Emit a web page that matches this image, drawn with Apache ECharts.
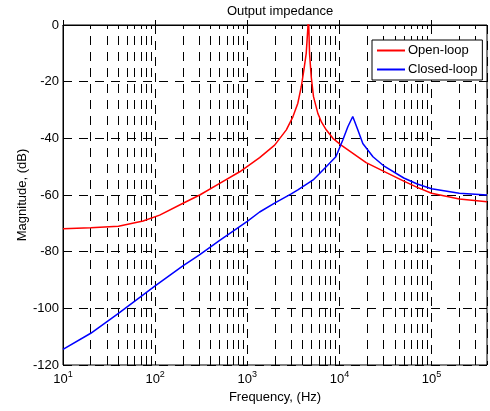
<!DOCTYPE html>
<html>
<head>
<meta charset="utf-8">
<script src="https://cdn.jsdelivr.net/npm/echarts@6/dist/echarts.min.js"></script>
<style>
  html, body { margin: 0; padding: 0; background: #fff; }
  #chart { width: 490px; height: 411px; }
</style>
</head>
<body>
<div id="chart"></div>
<script>
// frequencies (Hz) and magnitudes (dB)
const openFreq = [10, 20, 40, 74, 112, 201, 305, 502, 828, 1362, 1982, 2655, 3127, 3540, 3855, 4114, 4365, 4546, 4610, 4742, 4943, 5237, 5834, 6400, 7190, 8500, 10450, 19500, 30000, 50000, 70000, 100000, 200000, 400000]
const openMag = [-71.9, -71.6, -71, -69.2, -67.1, -62.9, -60, -55.9, -51.8, -46.8, -42.4, -37, -32.4, -27.6, -21.8, -15.9, -10, -1, 4, -10, -18.2, -25.3, -31.2, -34.3, -37, -40, -42.4, -48.6, -51.6, -55.1, -57.3, -59.4, -61.4, -62.4]

const closedFreq = [10, 20, 40, 100, 200, 300, 502, 1000, 1362, 2000, 3000, 3540, 5190, 7190, 9150, 10890, 12350, 13960, 15830, 17950, 23140, 30000, 50000, 70000, 100000, 200000, 400000]
const closedMag = [-114.5, -108.8, -101.8, -92.1, -85, -81.2, -76, -69.3, -66, -62.8, -59.6, -58.2, -54.7, -50, -46.5, -40.6, -35.9, -32.3, -37, -41.8, -46.5, -49.6, -54, -56.1, -57.8, -59.4, -60]

const yTicks = [-120, -100, -80, -60, -40, -20, 0]
const decades = [10, 100, 1000, 10000, 100000]
const minorMult = [2, 3, 4, 5, 6, 7, 8, 9]

const xMin = 10
const xMax = 400000

// minor grid positions 20,30,...,90,200,...
let minorLines = []
decades.forEach(d => {
  minorMult.forEach(m => {
    const v = d * m
    if (v < xMax) minorLines.push({ xAxis: v })
  })
})

const font = 'Liberation Sans, Arial, Helvetica, sans-serif'
const dash = [9, 7]

const chart = echarts.init(document.getElementById('chart'), null, { renderer: 'canvas' })

const option = {
  animation: false,
  backgroundColor: '#fff',
  title: {
    text: 'Output impedance',
    left: 275,
    top: 0,
    textAlign: 'center',
    textStyle: { fontFamily: font, fontSize: 13, fontWeight: 'normal', color: '#000' }
  },
  legend: {
    left: 372,
    top: 40,
    orient: 'vertical',
    itemWidth: 28,
    itemHeight: 2,
    itemGap: 4,
    padding: [3, 5, 3, 5],
    backgroundColor: '#fff',
    borderColor: '#000',
    borderWidth: 1,
    borderRadius: 0,
    icon: 'rect',
    textStyle: { fontFamily: font, fontSize: 13, color: '#000', lineHeight: 15, padding: [0, 0, 0, -2] },
    data: ['Open-loop', 'Closed-loop']
  },
  grid: {
    left: 63,
    right: 3,
    top: 25,
    bottom: 46,
    show: true,
    borderColor: '#000',
    borderWidth: 1
  },
  xAxis: {
    type: 'log',
    logBase: 10,
    min: xMin,
    max: xMax,
    name: 'Frequency, (Hz)',
    nameLocation: 'middle',
    nameGap: 26,
    nameMoveOverlap: false,
    nameTextStyle: { fontFamily: font, fontSize: 13, color: '#000' },
    axisLine: { show: true, lineStyle: { color: '#000', width: 1 } },
    axisTick: { show: true, inside: true, length: 5, lineStyle: { color: '#000' } },
    splitLine: { show: true, lineStyle: { color: '#000', width: 1, type: dash } },
    axisLabel: {
      margin: 6,
      showMaxLabel: false,
      formatter: function (v) {
        const e = Math.log10(v)
        if (Math.abs(e - Math.round(e)) > 1e-6) return ''
        return '{b|10}{s|' + Math.round(e) + '}'
      },
      rich: {
        b: { fontFamily: font, fontSize: 13, color: '#000', lineHeight: 16 },
        s: { fontFamily: font, fontSize: 9, color: '#000', lineHeight: 16, padding: [0, 0, 9, 0] }
      }
    }
  },
  yAxis: {
    type: 'value',
    min: yTicks[0],
    max: yTicks[yTicks.length - 1],
    interval: 20,
    name: 'Magnitude, (dB)',
    nameLocation: 'middle',
    nameGap: 34,
    nameMoveOverlap: false,
    nameTextStyle: { fontFamily: font, fontSize: 13, color: '#000' },
    axisLine: { show: true, lineStyle: { color: '#000', width: 1 } },
    axisTick: { show: true, inside: true, length: 5, lineStyle: { color: '#000' } },
    splitLine: { show: true, lineStyle: { color: '#000', width: 1, type: dash } },
    axisLabel: { margin: 4, fontFamily: font, fontSize: 13, color: '#000' }
  },
  series: [
    {
      name: 'Open-loop',
      type: 'line',
      data: openFreq.map((f, i) => [f, openMag[i]]),
      showSymbol: false,
      clip: true,
      z: 3,
      color: '#ff0000',
      lineStyle: { color: '#ff0000', width: 1.5 },
      markLine: {
        silent: true,
        symbol: 'none',
        label: { show: false },
        lineStyle: { color: '#000', width: 1, type: dash },
        z: 1,
        data: minorLines
      }
    },
    {
      name: 'Closed-loop',
      type: 'line',
      data: closedFreq.map((f, i) => [f, closedMag[i]]),
      showSymbol: false,
      clip: true,
      z: 3,
      color: '#0000ff',
      lineStyle: { color: '#0000ff', width: 1.5 }
    }
  ]
}

chart.setOption(option)
</script>
</body>
</html>
